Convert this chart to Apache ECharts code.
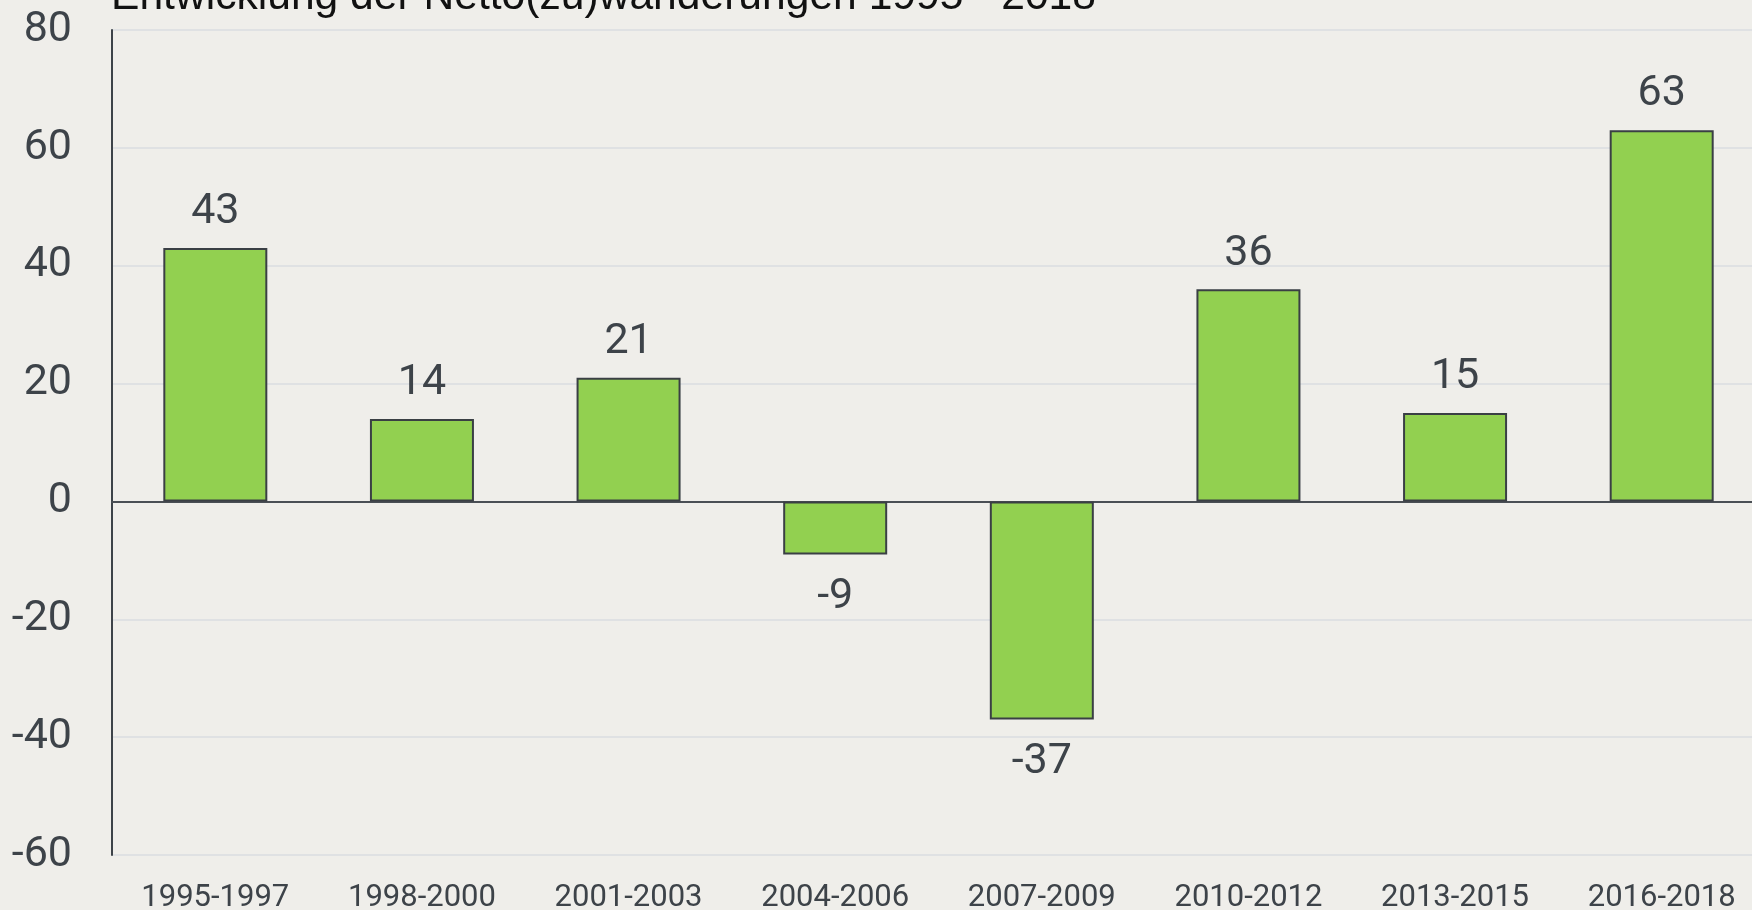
<!DOCTYPE html>
<html>
<head>
<meta charset="utf-8" />
<script src="https://cdn.jsdelivr.net/npm/echarts@6/dist/echarts.min.js"></script>
<style>
  html, body { margin: 0; padding: 0; background: #efeeea; }
  #chart { width: 1752px; height: 910px; }
</style>
</head>
<body>
<div id="chart"></div>
<script>
const title = "Entwicklung der Netto(zu)wanderungen 1995 - 2018";
const periods = ["1995-1997", "1998-2000", "2001-2003", "2004-2006", "2007-2009", "2010-2012", "2013-2015", "2016-2018"];
const netMigration = [43, 14, 21, -9, -37, 36, 15, 63];
const yTicks = { min: -60, max: 80, interval: 20 };

const textColor = "#3d4349";
const chart = echarts.init(document.getElementById("chart"), null, { renderer: "canvas" });

chart.setOption({
  animation: false,
  backgroundColor: "#efeeea",
  title: {
    text: title,
    left: 106,
    top: -29,
    textStyle: { fontFamily: "Liberation Sans, Arial, sans-serif", fontSize: 42.6, fontWeight: "normal", color: "#111111" },
  },
  // the plot runs a little past the right edge in the original
  grid: { left: 112, right: -13, top: 30, bottom: 55, containLabel: false, outerBoundsMode: "none" },
  xAxis: {
    type: "category",
    data: periods,
    axisTick: { show: false },
    axisLine: { show: true, onZero: true, lineStyle: { color: "#4a4f55", width: 2 } },
    axisLabel: { fontFamily: "Roboto", fontSize: 31, color: textColor, margin: 28, interval: 0 },
  },
  yAxis: {
    type: "value",
    min: yTicks.min,
    max: yTicks.max,
    interval: yTicks.interval,
    axisLine: { show: true, lineStyle: { color: "#3d4349", width: 2 } },
    axisTick: { show: false },
    axisLabel: { fontFamily: "Roboto", fontSize: 43, color: textColor, margin: 40 },
    splitLine: { lineStyle: { color: "#dfe1e3", width: 2 } },
  },
  series: [
    {
      type: "bar",
      barWidth: 104,
      data: netMigration.map((v) => ({
        value: v,
        label: v < 0 ? { position: "bottom", distance: 21 } : { position: "top", distance: 14 },
      })),
      itemStyle: { color: "#92d050", borderColor: "#3a3f44", borderWidth: 2 },
      label: {
        show: true,
        fontFamily: "Roboto",
        fontSize: 43,
        color: textColor,
      },
    },
  ],
});
</script>
</body>
</html>
